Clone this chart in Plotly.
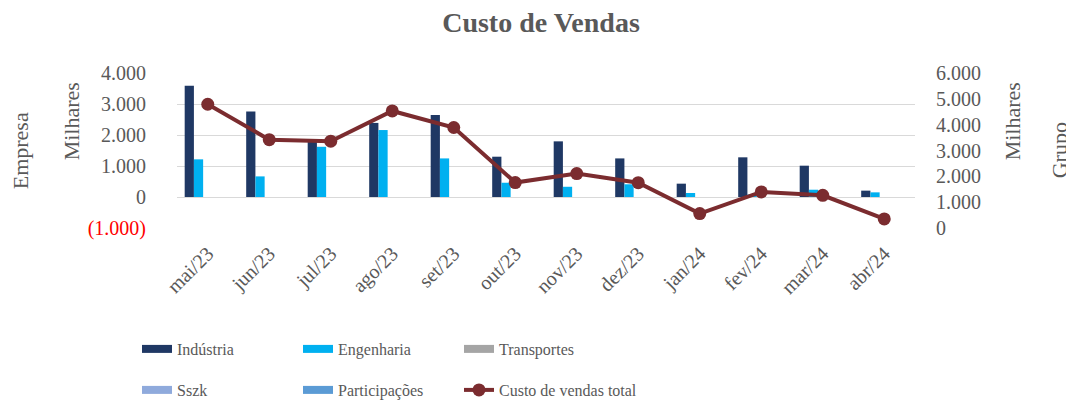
import plotly.graph_objects as go

categories = ["mai/23", "jun/23", "jul/23", "ago/23", "set/23", "out/23",
              "nov/23", "dez/23", "jan/24", "fev/24", "mar/24", "abr/24"]
industria = [3590, 2760, 1850, 2390, 2645, 1300, 1795, 1245, 430, 1280, 1010, 205]
engenharia = [1215, 665, 1620, 2160, 1245, 460, 330, 410, 130, 80, 235, 150]
transportes = [0] * 12
sszk = [0] * 12
participacoes = [0] * 12
custo_total = [4790, 3420, 3360, 4530, 3890, 1760, 2105, 1755, 560, 1395, 1265, 350]

left_ticks = [-1000, 0, 1000, 2000, 3000, 4000]
left_ticktext = ["<span style='color:#FF0000'>(1.000)</span>", "0", "1.000", "2.000", "3.000", "4.000"]

FONT = "Liberation Serif"
TXT = "#595959"
GRID = "#D9D9D9"

bar_series = [
    ("Indústria", industria, "#1F3864"),
    ("Engenharia", engenharia, "#00B0F0"),
    ("Transportes", transportes, "#A5A5A5"),
    ("Sszk", sszk, "#8FAADC"),
    ("Participações", participacoes, "#5B9BD5"),
]
line_color = "#7B2C2F"

# page body adds an 8px offset; work in figure coordinates
W, H = 1066, 393
PL, PR, PT, PB = 169, 907, 64.7, 219.7  # plot area in figure px
PW, PH = PR - PL, PB - PT

fig = go.Figure()
for name, vals, col in bar_series:
    fig.add_trace(go.Bar(x=categories, y=vals, name=name, marker_color=col,
                         marker_line_width=0, showlegend=False))

# legend entries (wide rectangles like the original)
for i, (name, vals, col) in enumerate(bar_series):
    fig.add_trace(go.Scatter(x=[None], y=[None], mode="lines", name=name,
                             line=dict(color=col, width=8),
                             legend="legend" if i < 3 else "legend2"))

fig.add_trace(go.Scatter(x=categories, y=custo_total, name="Custo de vendas total",
                         mode="lines+markers", yaxis="y2",
                         line=dict(color=line_color, width=4),
                         marker=dict(color=line_color, size=13),
                         legend="legend3"))

n = len(categories)
boundaries = [i - 0.5 for i in range(n + 1)]
zero_pos = (0 - left_ticks[0]) / (left_ticks[-1] - left_ticks[0])

LEG_X = 129
LEG_SP = 161
row1_y = 1 - 341 / H
row2_y = 1 - 382 / H
leg_font = dict(size=16, color=TXT, family=FONT)

def legend_box(x, y, ew):
    d = dict(orientation="h", xref="container", yref="container",
             x=x / W, xanchor="left", y=y, yanchor="middle", itemwidth=30,
             font=leg_font, bgcolor="rgba(0,0,0,0)")
    if ew:
        d.update(entrywidth=ew, entrywidthmode="pixels")
    return d

def ann(text, rx, ry):
    # rx, ry in reference-picture pixels
    return dict(text=text, textangle=-90, xref="paper", yref="paper",
                x=(rx - 8 - PL) / PW, y=(PB - (ry - 8)) / PH, xanchor="center",
                yanchor="middle", showarrow=False, font=dict(size=22, color=TXT, family=FONT))

fig.update_layout(
    template="none",
    width=W, height=H,
    margin=dict(l=PL, r=W - PR, t=PT, b=H - PB, autoexpand=False),
    paper_bgcolor="white", plot_bgcolor="white",
    separators=",.",
    font=dict(family=FONT, color=TXT, size=20),
    title=dict(text="<b>Custo de Vendas</b>", x=0.5, xanchor="center", xref="container",
               y=1 - 14 / H, yanchor="middle", yref="container",
               font=dict(size=28, color=TXT, family=FONT)),
    barmode="group", bargap=0.25, bargroupgap=0,
    xaxis=dict(type="category", range=[-0.5, n - 0.5], tickangle=-45, showgrid=False,
               ticks="", tickfont=dict(size=20, color=TXT, family=FONT),
               ticklabelstandoff=9, showline=False, automargin=False, zeroline=False),
    xaxis2=dict(overlaying="x", anchor="free", position=zero_pos,
                range=[-0.5, n - 0.5], tickvals=boundaries, ticks="outside",
                ticklen=5, tickcolor=GRID, tickwidth=1, showline=True, linecolor=GRID,
                linewidth=1, showticklabels=False, showgrid=False, zeroline=False,
                automargin=False),
    yaxis=dict(range=[left_ticks[0], left_ticks[-1]], tickvals=left_ticks,
               ticktext=left_ticktext, showgrid=True, gridcolor=GRID, gridwidth=1,
               zeroline=False, tickfont=dict(size=20, color=TXT, family=FONT),
               ticks="", ticklabelstandoff=30, automargin=False, showline=False),
    yaxis2=dict(overlaying="y", side="right", range=[0, 6000], dtick=1000,
                tickformat=",d", showgrid=False, zeroline=False, ticks="",
                tickfont=dict(size=20, color=TXT, family=FONT), ticklabelstandoff=20,
                automargin=False, showline=False),
    legend=legend_box(LEG_X, row1_y, LEG_SP - 45),
    legend2=legend_box(LEG_X, row2_y, LEG_SP - 45),
    legend3=legend_box(LEG_X + 2 * LEG_SP, row2_y, None),
    annotations=[
        ann("Empresa", 20, 151),
        ann("Milhares", 71, 121),
        ann("Milhares", 1012, 121),
        ann("Grupo", 1059, 150),
    ],
)

fig.write_html("out.html")
